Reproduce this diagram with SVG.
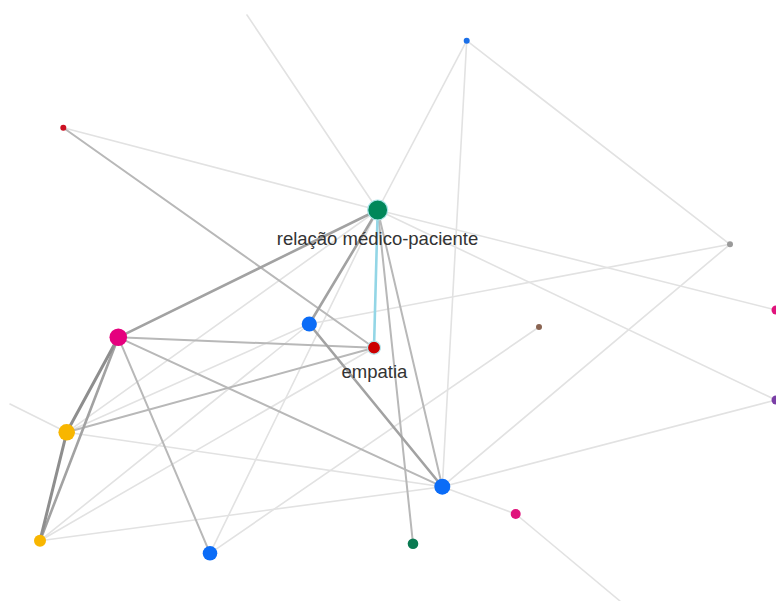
<svg xmlns="http://www.w3.org/2000/svg" width="776" height="601" viewBox="0 0 776 601">
<style>
.e{fill:none;stroke-linecap:round}
.l{stroke:#e2e2e2;stroke-width:1.6}
.m{stroke:#b8b8b8;stroke-width:2}
.d{stroke:#a2a2a2;stroke-width:2.6}
.x{stroke:#8e8e8e;stroke-width:3}
.c{stroke:#93d6e6;stroke-width:2.6}
.n{stroke-width:1.2}
.t{font-family:"Liberation Sans",Arial,sans-serif;font-size:18.5px;fill:#333;text-anchor:middle}
</style>
<rect width="776" height="601" fill="#fff"/>
<g id="edges" class="e">
<line class="l" x1="247" y1="15" x2="377.7" y2="210"/>
<line class="l" x1="466.7" y1="40.7" x2="377.7" y2="210"/>
<line class="l" x1="466.7" y1="40.7" x2="730" y2="244.3"/>
<line class="l" x1="466.7" y1="40.7" x2="442.3" y2="486.7"/>
<line class="l" x1="63.3" y1="127.7" x2="377.7" y2="210"/>
<line class="l" x1="377.7" y1="210" x2="776" y2="310"/>
<line class="l" x1="377.7" y1="210" x2="776" y2="400"/>
<line class="l" x1="377.7" y1="210" x2="66.7" y2="432.3"/>
<line class="l" x1="377.7" y1="210" x2="210" y2="553.3"/>
<line class="l" x1="309.3" y1="324" x2="730" y2="244.3"/>
<line class="l" x1="730" y1="244.3" x2="442.3" y2="486.7"/>
<line class="l" x1="10" y1="404" x2="66.7" y2="432.3"/>
<line class="l" x1="66.7" y1="432.3" x2="442.3" y2="486.7"/>
<line class="l" x1="66.7" y1="432.3" x2="309.3" y2="324"/>
<line class="l" x1="40" y1="540.7" x2="309.3" y2="324"/>
<line class="l" x1="40" y1="540.7" x2="374" y2="347.7"/>
<line class="l" x1="40" y1="540.7" x2="442.3" y2="486.7"/>
<line class="l" x1="442.3" y1="486.7" x2="776" y2="400"/>
<line class="l" x1="442.3" y1="486.7" x2="515.7" y2="514"/>
<line class="l" x1="515.7" y1="514" x2="620" y2="601"/>
<line class="l" x1="210" y1="553.3" x2="539" y2="327"/>
<line class="m" x1="63.3" y1="127.7" x2="374" y2="347.7"/>
<line class="m" x1="377.7" y1="210" x2="413" y2="543.7"/>
<line class="m" x1="377.7" y1="210" x2="442.3" y2="486.7"/>
<line class="m" x1="118.3" y1="337.3" x2="210" y2="553.3"/>
<line class="m" x1="118.3" y1="337.3" x2="374" y2="347.7"/>
<line class="m" x1="118.3" y1="337.3" x2="442.3" y2="486.7"/>
<line class="m" x1="66.7" y1="432.3" x2="374" y2="347.7"/>
<line class="d" x1="377.7" y1="210" x2="118.3" y2="337.3"/>
<line class="d" x1="377.7" y1="210" x2="309.3" y2="324"/>
<line class="d" x1="118.3" y1="337.3" x2="40" y2="540.7"/>
<line class="d" x1="309.3" y1="324" x2="442.3" y2="486.7"/>
<line class="x" x1="118.3" y1="337.3" x2="66.7" y2="432.3"/>
<line class="x" x1="66.7" y1="432.3" x2="40" y2="540.7"/>
<line class="c" x1="377.7" y1="210" x2="374" y2="347.7"/>
</g>
<g id="n-relacao" class="n"><circle cx="377.7" cy="210" r="10" fill="#00875a" stroke="#a8e4e8"/></g>
<g id="n-empatia" class="n"><circle cx="374" cy="347.7" r="6.5" fill="#cc0000" stroke="#b8e6ec"/></g>
<g id="n-blue1"><circle cx="309.3" cy="324" r="7.6" fill="#0b6cf7"/></g>
<g id="n-magenta1"><circle cx="118.3" cy="337.3" r="8.8" fill="#e5007e"/></g>
<g id="n-yellow1"><circle cx="66.7" cy="432.3" r="8.3" fill="#f8b600"/></g>
<g id="n-yellow2"><circle cx="40" cy="540.7" r="6" fill="#f8b600"/></g>
<g id="n-blue2"><circle cx="210" cy="553.3" r="7.3" fill="#0b6cf7"/></g>
<g id="n-blue3"><circle cx="442.3" cy="486.7" r="8" fill="#0b6cf7"/></g>
<g id="n-green2"><circle cx="413" cy="543.7" r="5.3" fill="#0a7a52"/></g>
<g id="n-magenta2"><circle cx="515.7" cy="514" r="5" fill="#e0137c"/></g>
<g id="n-blue4"><circle cx="466.7" cy="40.7" r="3" fill="#1a6fe8"/></g>
<g id="n-red2"><circle cx="63.3" cy="127.7" r="3" fill="#cc1022"/></g>
<g id="n-gray"><circle cx="730" cy="244.3" r="3" fill="#9a9a9a"/></g>
<g id="n-brown"><circle cx="539" cy="327" r="3" fill="#8a6452"/></g>
<g id="n-magenta3"><circle cx="776" cy="310" r="4.5" fill="#e0137c"/></g>
<g id="n-purple"><circle cx="776" cy="400" r="4.5" fill="#7a3ea6"/></g>
<g id="labels">
<text class="t" x="377.5" y="244.5">relação médico-paciente</text>
<text class="t" x="374.5" y="377.5">empatia</text>
</g>
</svg>
